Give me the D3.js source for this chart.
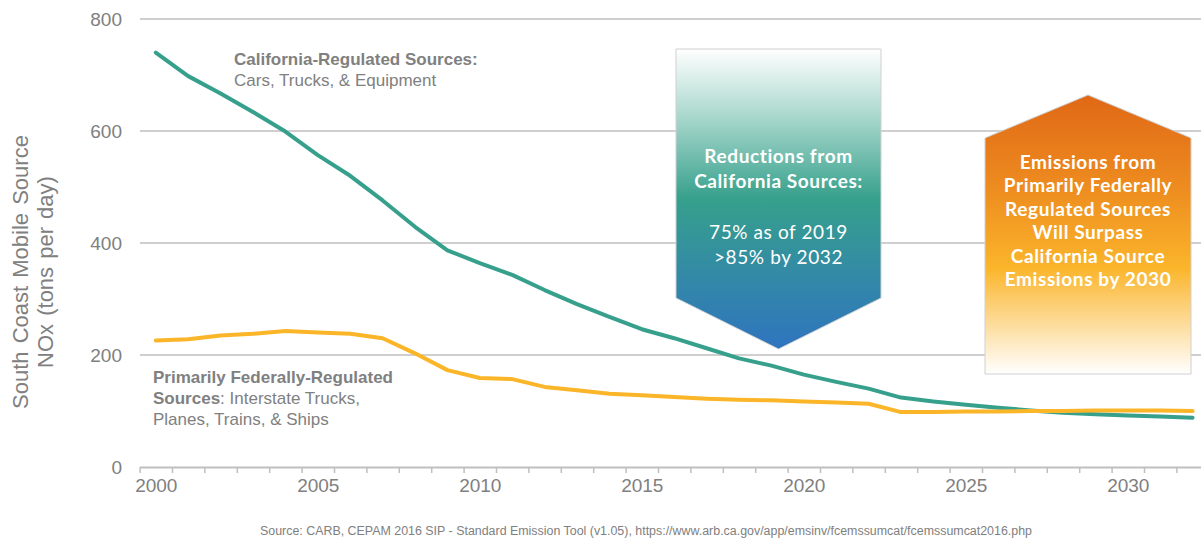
<!DOCTYPE html>
<html>
<head>
<meta charset="utf-8">
<script src="https://cdn.jsdelivr.net/npm/d3@7/dist/d3.min.js"></script>
<style>
  html, body { margin: 0; padding: 0; background: #fff; }
  svg { display: block; }
</style>
</head>
<body>
<svg id="chart" width="1201" height="540"></svg>
<script>
// ---- data ----
const years = d3.range(2000, 2033);
const californiaSources = [740, 698, 667, 634, 599, 557, 520, 476, 429, 387,
  364, 343, 316, 291, 268, 246, 230, 212, 194, 181,
  165, 152, 140, 124, 117, 111, 106, 101, 97, 94,
  92, 90, 88];
const federalSources = [226, 228, 235, 238, 243, 240, 238, 230, 203, 173,
  159, 157, 143, 137, 131, 128, 125, 122, 120, 119,
  117, 115, 113, 98, 98, 99, 99, 100, 100, 101,
  101, 101, 100];
const yTicks = [0, 200, 400, 600, 800];
const xLabelYears = [2000, 2005, 2010, 2015, 2020, 2025, 2030];
const yTitle = ["South Coast Mobile Source", "NOx (tons per day)"];
const caLabel = ["California-Regulated Sources:", "Cars, Trucks, & Equipment"];
const fedLabel = ["Primarily Federally-Regulated", "Sources", ": Interstate Trucks,", "Planes, Trains, & Ships"];
const downArrowText = ["Reductions from", "California Sources:", "", "75% as of 2019", ">85% by 2032"];
const upArrowText = ["Emissions from", "Primarily Federally", "Regulated Sources", "Will Surpass", "California Source", "Emissions by 2030"];
const sourceNote = "Source: CARB, CEPAM 2016 SIP - Standard Emission Tool (v1.05), https://www.arb.ca.gov/app/emsinv/fcemssumcat/fcemssumcat2016.php";

// ---- scales ----
const svg = d3.select("#chart");
const x = d3.scaleLinear().domain([1999.5, 2032.5]).range([139.6, 1208.8]);
const y = d3.scaleLinear().domain([0, 800]).range([467, 19]);
const grey = "#808080";
const gridColor = "#bfbfbf";
const font = "'Liberation Sans', Arial, sans-serif";
const boxFont = "Lato, 'Open Sans', sans-serif";

// ---- gridlines ----
svg.append("g")
  .selectAll("line")
  .data(yTicks.filter(d => d > 0))
  .join("line")
  .attr("x1", 140).attr("x2", 1201)
  .attr("y1", d => y(d)).attr("y2", d => y(d))
  .attr("stroke", gridColor).attr("stroke-width", 1.5);

// ---- y axis labels ----
const yAxis = d3.axisLeft(y).tickValues(yTicks).tickSize(0).tickPadding(0);
const gy = svg.append("g").attr("transform", "translate(122,0)").call(yAxis);
gy.select(".domain").remove();
gy.selectAll("text").attr("fill", grey).attr("font-size", 19).attr("font-family", font);

// ---- x axis: tick marks at category boundaries ----
const boundaries = d3.range(1999.5, 2033, 1);
const xTickAxis = d3.axisBottom(x).tickValues(boundaries).tickFormat("").tickSize(6).tickSizeOuter(0);
const gx = svg.append("g").attr("transform", `translate(0,${y(0)})`).call(xTickAxis);
gx.select(".domain").attr("stroke", gridColor).attr("stroke-width", 2);
gx.selectAll(".tick line").attr("stroke", gridColor).attr("stroke-width", 1.5);

const xLabAxis = d3.axisBottom(x).tickValues(xLabelYears).tickFormat(d3.format("d")).tickSize(0).tickPadding(12);
const gxl = svg.append("g").attr("transform", `translate(0,${y(0)})`).call(xLabAxis);
gxl.select(".domain").remove();
gxl.selectAll("text").attr("fill", grey).attr("font-size", 19).attr("font-family", font);

// ---- y title ----
const yt = svg.append("text")
  .attr("transform", "translate(31,272) rotate(-90)")
  .attr("text-anchor", "middle")
  .attr("fill", grey).attr("font-size", 22).attr("font-family", font)
  .attr("word-spacing", 2);
yt.append("tspan").attr("x", 0).attr("dy", "-0.12em").text(yTitle[0]);
yt.append("tspan").attr("x", 0).attr("dy", "1.1em").text(yTitle[1]);

// ---- lines ----
const line = d3.line().x(d => x(d[0])).y(d => y(d[1])).curve(d3.curveLinear);
svg.append("path")
  .datum(years.map((yr, i) => [yr, californiaSources[i]]))
  .attr("d", line).attr("fill", "none")
  .attr("stroke", "#37a08c").attr("stroke-width", 4).attr("stroke-linejoin", "round").attr("stroke-linecap", "round");
svg.append("path")
  .datum(years.map((yr, i) => [yr, federalSources[i]]))
  .attr("d", line).attr("fill", "none")
  .attr("stroke", "#fbb528").attr("stroke-width", 4).attr("stroke-linejoin", "round").attr("stroke-linecap", "round");

// ---- series annotations ----
const ca = svg.append("text").attr("font-family", font).attr("font-size", 17).attr("fill", grey);
ca.append("tspan").attr("x", 234).attr("y", 65).attr("font-weight", "bold").text(caLabel[0]);
ca.append("tspan").attr("x", 234).attr("y", 86).text(caLabel[1]);

const fed = svg.append("text").attr("font-family", font).attr("font-size", 17).attr("fill", grey);
fed.append("tspan").attr("x", 153).attr("y", 383).attr("font-weight", "bold").text(fedLabel[0]);
fed.append("tspan").attr("x", 153).attr("y", 404).attr("font-weight", "bold").text(fedLabel[1]);
fed.append("tspan").text(fedLabel[2]);
fed.append("tspan").attr("x", 153).attr("y", 425).text(fedLabel[3]);

// ---- gradients ----
const defs = svg.append("defs");
const gDown = defs.append("linearGradient").attr("id", "gDown")
  .attr("x1", 0).attr("y1", 0).attr("x2", 0).attr("y2", 1);
gDown.append("stop").attr("offset", "0%").attr("stop-color", "#ffffff");
gDown.append("stop").attr("offset", "25%").attr("stop-color", "#9fd3c7");
gDown.append("stop").attr("offset", "50%").attr("stop-color", "#36a08c");
gDown.append("stop").attr("offset", "100%").attr("stop-color", "#2f74bf");

const gUp = defs.append("linearGradient").attr("id", "gUp")
  .attr("x1", 0).attr("y1", 0).attr("x2", 0).attr("y2", 1);
gUp.append("stop").attr("offset", "0%").attr("stop-color", "#e06816");
gUp.append("stop").attr("offset", "35%").attr("stop-color", "#ee8e20");
gUp.append("stop").attr("offset", "62%").attr("stop-color", "#fbb52b");
gUp.append("stop").attr("offset", "100%").attr("stop-color", "#ffffff");

// ---- down arrow (California reductions) ----
const dL = 676, dR = 881, dT = 49, dS = 298, dP = 349;
const dMid = (dL + dR) / 2;
svg.append("path")
  .attr("d", `M${dL},${dT}H${dR}V${dS}L${dMid},${dP}L${dL},${dS}Z`)
  .attr("fill", "url(#gDown)").attr("stroke", "#d0d0d0").attr("stroke-width", 1);
const dt = svg.append("text").attr("text-anchor", "middle").attr("fill", "#fff")
  .attr("font-family", boxFont).attr("font-size", 19).attr("letter-spacing", 0.6);
const dYs = [163, 188, 213, 239, 264];
downArrowText.forEach((t, i) => {
  if (!t) return;
  dt.append("tspan").attr("x", dMid).attr("y", dYs[i])
    .attr("font-weight", i < 2 ? "bold" : "normal").text(t);
});

// ---- up arrow (Federal sources) ----
const uL = 985, uR = 1191, uT = 95, uS = 138, uB = 374;
const uMid = (uL + uR) / 2;
svg.append("path")
  .attr("d", `M${uL},${uB}V${uS}L${uMid},${uT}L${uR},${uS}V${uB}Z`)
  .attr("fill", "url(#gUp)").attr("stroke", "#d0d0d0").attr("stroke-width", 1);
const ut = svg.append("text").attr("text-anchor", "middle").attr("fill", "#fff")
  .attr("font-family", boxFont).attr("font-size", 19).attr("font-weight", "bold")
  .attr("letter-spacing", 0.6);
upArrowText.forEach((t, i) => {
  ut.append("tspan").attr("x", uMid).attr("y", 169 + i * 23.4).text(t);
});

// ---- source note ----
svg.append("text").attr("x", 260).attr("y", 535)
  .attr("font-family", font).attr("font-size", 12).attr("fill", grey)
  .attr("textLength", 772).attr("lengthAdjust", "spacingAndGlyphs")
  .text(sourceNote);
</script>
</body>
</html>
